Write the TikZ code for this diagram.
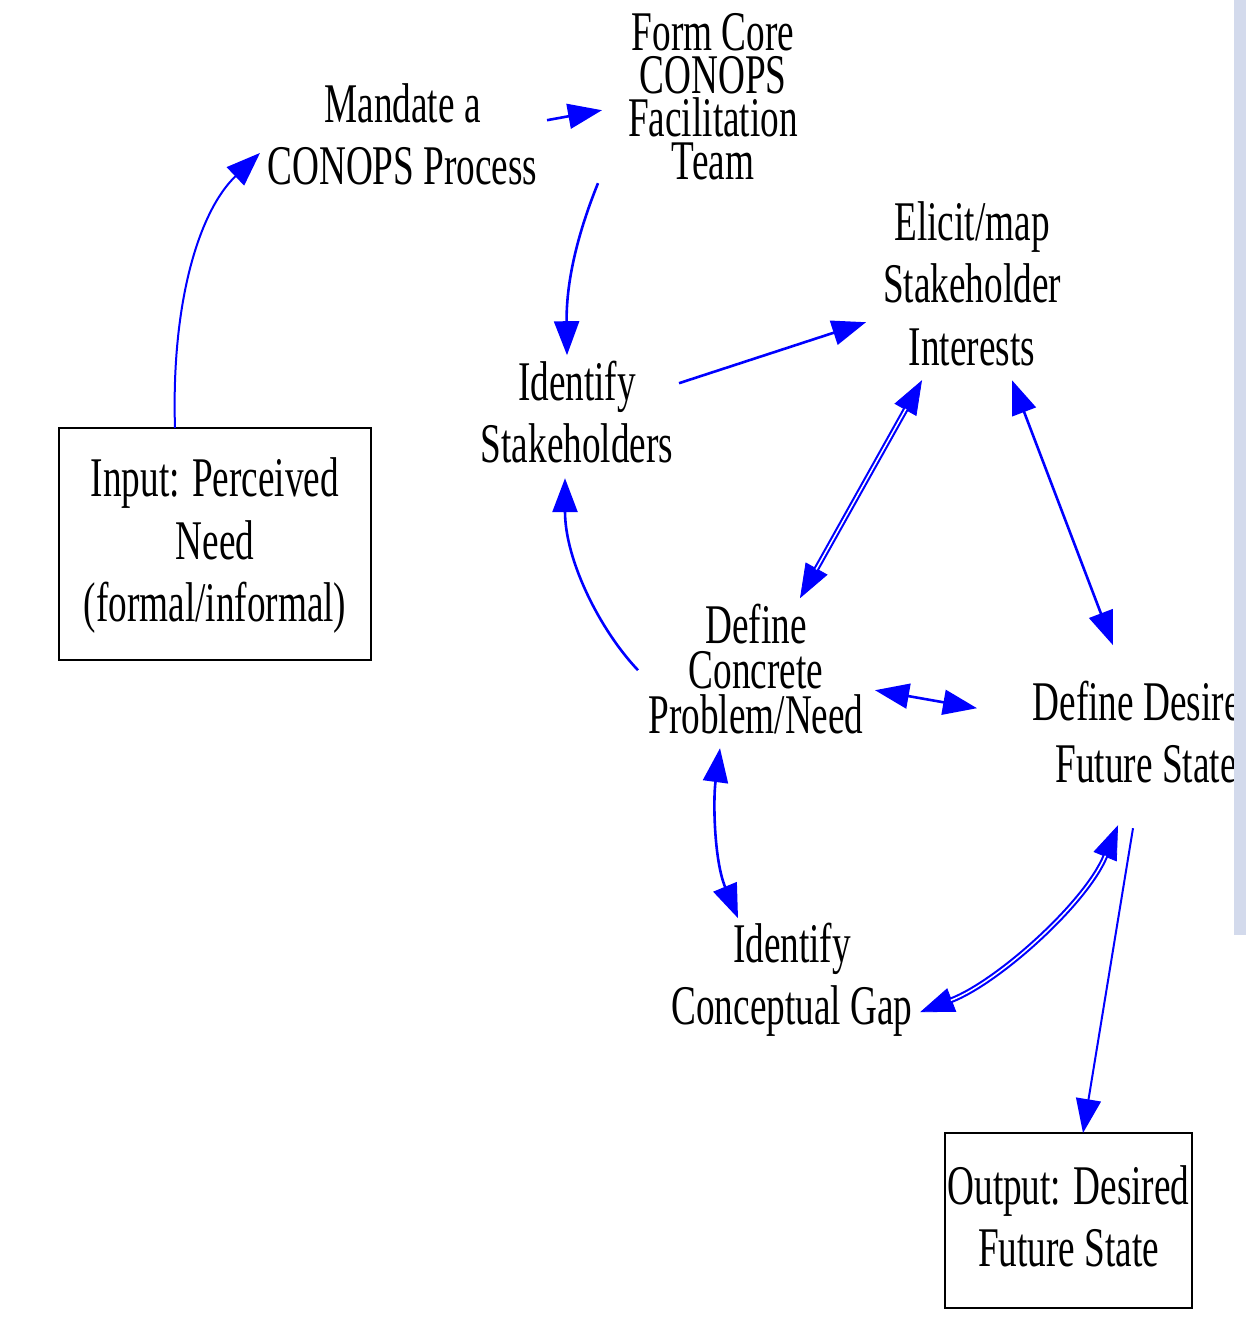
\documentclass[tikz,border=0pt]{standalone}
\usepackage{fontspec}
\setmainfont{Liberation Serif}[FakeStretch=0.665]
\usetikzlibrary{arrows.meta}
\definecolor{barcol}{RGB}{211,218,236}
\newcommand\topst{\rule{0pt}{45pt}}
\newcommand\botst{\rule[-15pt]{0pt}{0pt}}
\begin{document}
\begin{tikzpicture}[x=1pt,y=-1pt,
  txt/.style={inner sep=0pt, align=center, font=\fontsize{56}{62.5}\selectfont},
  tighttxt/.style={txt, font=\fontsize{56}{43}\selectfont},
  midtxt/.style={txt, font=\fontsize{56}{45}\selectfont},
  boxnode/.style={txt, draw=black, line width=2pt},
  conn/.style={draw=blue, line width=2.6pt},
  thinconn/.style={draw=blue, line width=2pt},
  hairconn/.style={draw=blue, line width=0.8pt},
  tipe/.style={-{Triangle[length=34pt,width=25pt]}},
  tipb/.style={{Triangle[length=34pt,width=25pt]}-{Triangle[length=34pt,width=25pt]}},
  dbl/.style={draw=blue, double=white, line width=2.1pt, double distance=1.5pt, shorten <=33pt, shorten >=33pt},
]
\useasboundingbox (0,0) rectangle (1245,1340);
\fill[white] (0,0) rectangle (1245,1340);

% nodes
\node[txt, anchor=north] (mandate) at (402.5,77) {\topst Mandate a\\CONOPS Process\botst};
\node[tighttxt, anchor=north] (form) at (713,5) {\topst Form Core\\CONOPS\\Facilitation\\Team\botst};
\node[txt, anchor=north] (elicit) at (972,195) {\topst Elicit/map\\Stakeholder\\Interests\botst};
\node[txt, anchor=north] (stake) at (577,355) {\topst Identify\\Stakeholders\botst};
\node[boxnode, minimum width=312pt, minimum height=232pt] (input) at (215,544) {\topst Input: Perceived\\Need\\(formal/informal)\botst};
\node[midtxt, anchor=north] (concrete) at (756,598) {\topst Define\\Concrete\\Problem/Need\botst};
\node[txt, anchor=north] (desired) at (1146,675) {\topst Define Desired\\Future State\botst};
\node[txt, anchor=north] (gap) at (792,917) {\topst Identify\\Conceptual Gap\botst};
\node[boxnode, minimum width=247pt, minimum height=175pt] (output) at (1068.5,1220.5) {\topst Output: Desired\\Future State\botst};

% connectors
\draw[thinconn, tipe] ([shift={(-40,-116)}]input.center) .. controls +(-4,-128) and +(-60,57) .. ([shift={(-142.5,14.5)}]mandate.center);
\draw[conn, tipe] ([shift={(144.5,-18.25)}]mandate.center) -- ([shift={(-111,10.5)}]form.center);
\draw[conn, tipe] ([shift={(-115,83.5)}]form.center) .. controls +(-13,32) and +(-1,-85) .. ([shift={(-10,-61.25)}]stake.center);
\draw[conn, tipe] ([shift={(102,-33.25)}]stake.center) -- ([shift={(-106,34.5)}]elicit.center);
\draw[conn, tipe] ([shift={(-118,-3)}]concrete.center) .. controls +(-38,-40) and +(0,82) .. ([shift={(-12,61.75)}]stake.center);

\draw[hairconn, tipb] ([shift={(-50,92.5)}]elicit.center) -- ([shift={(44,-75)}]concrete.center);
\draw[dbl] ([shift={(-50,92.5)}]elicit.center) -- ([shift={(44,-75)}]concrete.center);

\draw[conn, tipb] ([shift={(40,92.5)}]elicit.center) -- ([shift={(-33,-91.25)}]desired.center);
\draw[conn, tipb] ([shift={(119,17)}]concrete.center) -- ([shift={(-169,-28.25)}]desired.center);
\draw[conn, tipb] ([shift={(-36,75)}]concrete.center) .. controls +(-7,52) and +(-24,-58) .. ([shift={(-54,-60.25)}]gap.center);

\draw[hairconn, tipb] ([shift={(-28,88.75)}]desired.center) .. controls +(-32,78) and +(78,-30) .. ([shift={(128,33.75)}]gap.center);
\draw[dbl] ([shift={(-28,88.75)}]desired.center) .. controls +(-32,78) and +(78,-30) .. ([shift={(128,33.75)}]gap.center);

\draw[thinconn, tipe] ([shift={(-13,91.75)}]desired.center) -- ([shift={(14.5,-87.5)}]output.center);

% right-hand side bar
\fill[barcol] (1234,0) rectangle (1275,935);
\fill[white] (1245,935) rectangle (1275,1340);
\end{tikzpicture}
\end{document}
